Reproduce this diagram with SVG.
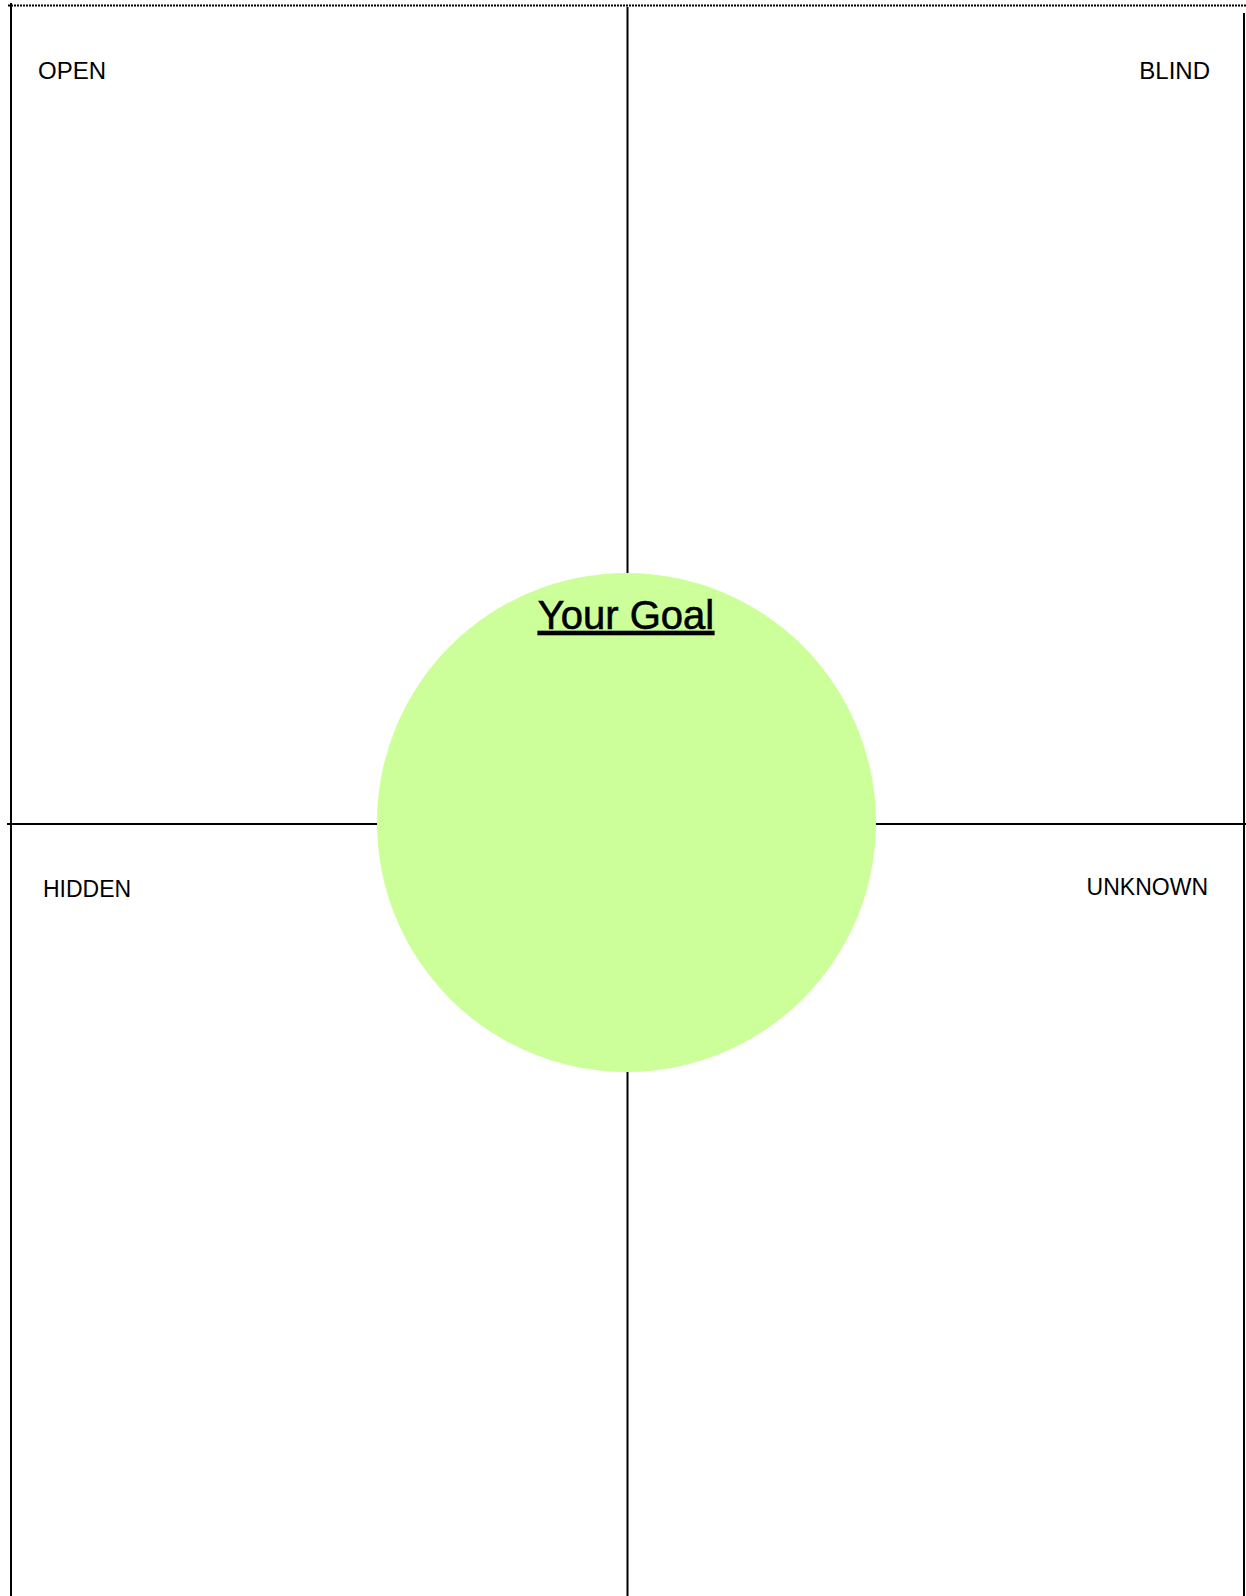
<svg xmlns="http://www.w3.org/2000/svg" width="1246" height="1596" viewBox="0 0 1246 1596">
<style>
.ln{stroke:#000;stroke-width:2;fill:none}
.lbl{font-family:"Liberation Sans",Arial,sans-serif;font-size:24px;fill:#000}
</style>
<rect width="1246" height="1596" fill="#fff"/>
<g id="connectors">
<line class="ln" x1="8" y1="5.5" x2="1246" y2="5.5" stroke-dasharray="2,1"/>
<line class="ln" x1="11" y1="3" x2="11" y2="1596"/>
<line class="ln" x1="1244" y1="13" x2="1244" y2="1596"/>
<line class="ln" x1="7" y1="824" x2="1246" y2="824"/>
<line class="ln" x1="627.5" y1="7" x2="627.5" y2="600"/>
<line class="ln" x1="627.5" y1="1040" x2="627.5" y2="1596"/>
</g>
<g id="goal">
<circle cx="626.5" cy="822.5" r="249.5" fill="#ccff99"/>
<text x="626" y="629" text-anchor="middle" font-family="Liberation Sans, Arial, sans-serif" font-size="40" stroke="#000" stroke-width="0.6" text-decoration="underline">Your Goal</text>
</g>
<g id="open"><text class="lbl" x="38" y="79">OPEN</text></g>
<g id="blind"><text class="lbl" x="1210" y="79" text-anchor="end">BLIND</text></g>
<g id="hidden"><text class="lbl" x="43" y="897" style="font-size:23px">HIDDEN</text></g>
<g id="unknown"><text class="lbl" x="1208" y="895" text-anchor="end" style="font-size:23px">UNKNOWN</text></g>
</svg>
